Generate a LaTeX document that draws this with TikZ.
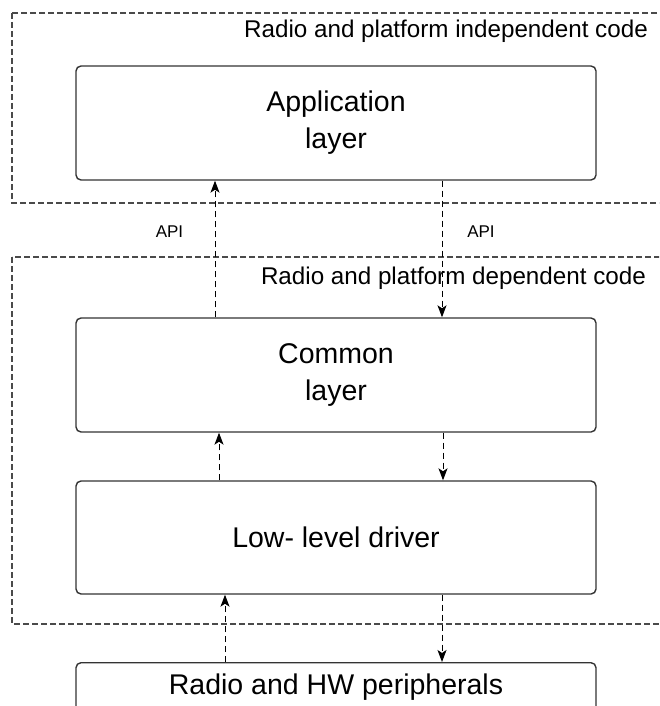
\documentclass[tikz,border=0pt]{standalone}
\usepackage{fontspec}
\setmainfont{Liberation Sans}
\usetikzlibrary{arrows.meta}
\definecolor{boxline}{HTML}{333333}
\definecolor{regionline}{HTML}{4A4A4A}
\tikzset{
  layerbox/.style={draw=boxline, line width=1.4pt, rounded corners=5pt, fill=white,
    minimum width=520pt, align=center, inner sep=0pt,
    font=\fontsize{28.5}{37}\selectfont},
  region/.style={draw=regionline, line width=1.3pt, dash pattern=on 6pt off 3pt},
  regionlabel/.style={anchor=east, inner sep=0pt, font=\fontsize{24.2}{28}\selectfont},
  apilabel/.style={inner sep=0pt, font=\fontsize{17}{20}\selectfont},
  conn/.style={draw=black, line width=1pt, dash pattern=on 6pt off 4pt,
    -{Stealth[length=12pt,width=9pt,inset=3pt]}},
}
\begin{document}
\begin{tikzpicture}[x=1pt,y=-1pt]
\useasboundingbox (0,0) rectangle (659,706);
\clip (0,0) rectangle (659,706);
% regions
\draw[region] (12,13) rectangle (680,203);
\draw[region] (12,257) rectangle (680,624);
\node[regionlabel] (indep) at (648,31) {Radio and platform independent code};
\node[regionlabel] (dep) at (646,278) {Radio and platform dependent code};
% boxes
\node[layerbox, minimum height=114pt] (app) at (336,123) {Application\\layer};
\node[layerbox, minimum height=114pt] (common) at (336,375) {Common\\layer};
\node[layerbox, minimum height=113pt] (low) at (336,537.5) {Low- level driver};
\node[layerbox, minimum height=60pt, anchor=north] (radio) at (336,662) {};
\node[inner sep=0pt, font=\fontsize{28.5}{37}\selectfont] (radiotext) at (336,687) {Radio and HW peripherals};
% api labels
\node[apilabel] (api1) at (169.5,232) {API};
\node[apilabel] (api2) at (481,232) {API};
% connectors
\coordinate (u1) at (215,0);
\coordinate (d1) at (442,0);
\coordinate (u2) at (219,0);
\coordinate (d2) at (443,0);
\coordinate (u3) at (225,0);
\coordinate (d3) at (442,0);
\draw[conn] (u1 |- common.north) -- (u1 |- app.south);
\draw[conn] (d1 |- app.south) -- (d1 |- common.north);
\draw[conn] (u2 |- low.north) -- (u2 |- common.south);
\draw[conn] (d2 |- common.south) -- (d2 |- low.north);
\draw[conn] (u3 |- radio.north) -- (u3 |- low.south);
\draw[conn] (d3 |- low.south) -- (d3 |- radio.north);
\end{tikzpicture}
\end{document}
